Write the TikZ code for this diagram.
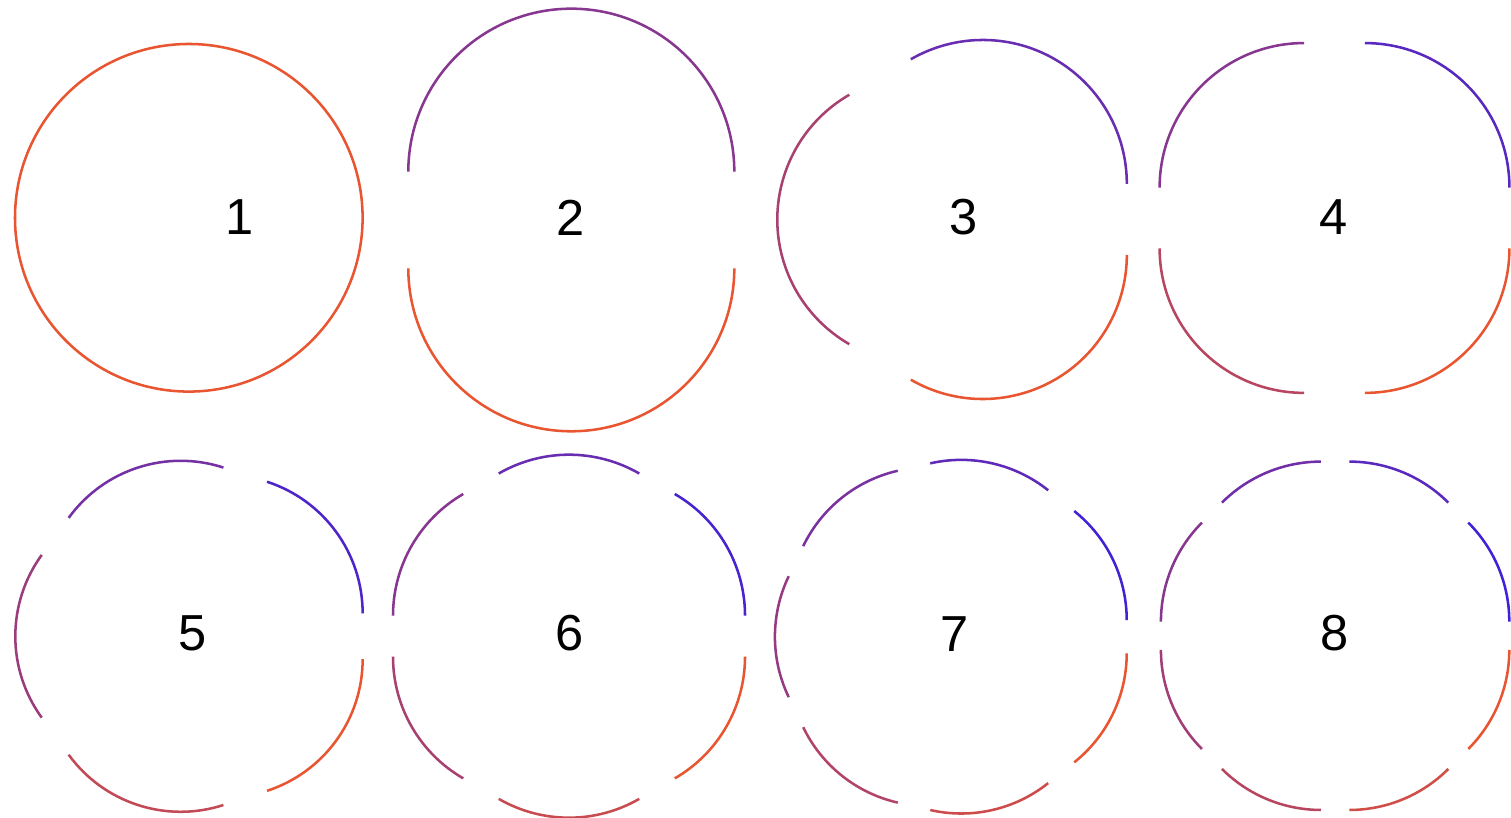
\documentclass[tikz,border=0pt]{standalone}
\usepackage{fontspec}
\setmainfont{Liberation Sans}
\usetikzlibrary{calc}
\definecolor{cA}{RGB}{40,25,240}
\definecolor{cB}{RGB}{232,85,48}
\tikzset{
  lbl/.style={font=\fontsize{14.4pt}{17pt}\selectfont, inner sep=0pt, text=black},
  seg/.style={line width=0.72pt}
}
% #1 cx, #2 cy, #3 r, #4 d, #5 n   (all in cm, y up)
\newcommand\explodedcircle[5]{%
  \foreach \i in {1,...,#5}{
    \pgfmathsetmacro\aA{360*(\i-1)/#5}
    \pgfmathsetmacro\aB{360*\i/#5}
    \pgfmathsetmacro\aM{(\aA+\aB)/2}
    \pgfmathsetmacro\pct{100*\i/#5}
    \colorlet{segc}{cB!\pct!cA}
    \draw[seg, segc] ($(#1,#2)+(\aM:#4)+(\aA:#3)$) arc[start angle=\aA, end angle=\aB, radius=#3];
  }}
\begin{document}
\begin{tikzpicture}[x=1cm,y=1cm]
  \fill[white] (0,0) rectangle (15.11,8.18);
  \useasboundingbox (0,0) rectangle (15.11,8.18);
  % row 1
  \explodedcircle{1.888}{6.002}{1.738}{0}{1}
  \explodedcircle{5.713}{5.980}{1.630}{0.483}{2}
  \explodedcircle{9.623}{5.985}{1.440}{0.410}{3}
  \explodedcircle{13.345}{6.000}{1.445}{0.430}{4}
  % row 2
  \explodedcircle{1.927}{1.817}{1.384}{0.390}{5}
  \explodedcircle{5.690}{1.818}{1.405}{0.410}{6}
  \explodedcircle{9.527}{1.813}{1.394}{0.384}{7}
  \explodedcircle{13.351}{1.822}{1.400}{0.370}{8}
  % labels
  \node[lbl] (l1) at (2.400,6.013) {1};
  \node[lbl] (l2) at (5.707,5.997) {2};
  \node[lbl] (l3) at (9.633,6.013) {3};
  \node[lbl] (l4) at (13.333,6.013) {4};
  \node[lbl] (l5) at (1.927,1.847) {5};
  \node[lbl] (l6) at (5.700,1.847) {6};
  \node[lbl] (l7) at (9.543,1.840) {7};
  \node[lbl] (l8) at (13.343,1.847) {8};
\end{tikzpicture}
\end{document}
